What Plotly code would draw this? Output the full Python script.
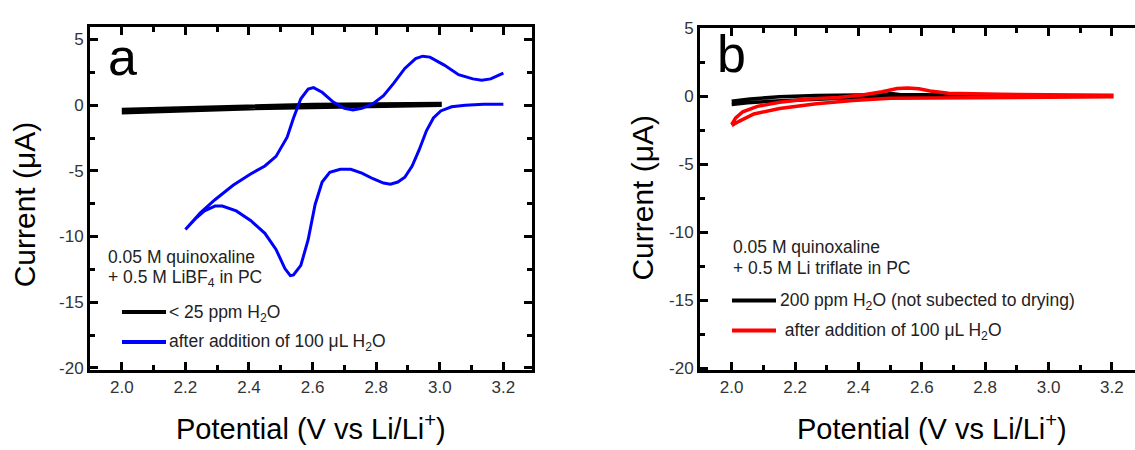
import plotly.graph_objects as go

W, H = 1135, 450

# ---------------- data ----------------
# Panel a: blue CV (after addition of 100 uL H2O): cathodic branch 3.2 -> 2.2, then anodic 2.2 -> 3.2
a_blue_v = [3.200, 3.138, 3.080, 3.037, 3.003, 2.980, 2.958, 2.935, 2.913, 2.890, 2.868, 2.845,
            2.823, 2.790, 2.755, 2.720, 2.687, 2.654, 2.630, 2.608, 2.586, 2.563, 2.540, 2.530,
            2.513, 2.485, 2.450, 2.405, 2.360, 2.316, 2.293, 2.260, 2.231, 2.200,
            2.247, 2.293, 2.350, 2.405, 2.450, 2.485, 2.520, 2.540, 2.563, 2.586, 2.603, 2.630,
            2.665, 2.700, 2.727, 2.755, 2.790, 2.823, 2.856, 2.890, 2.924, 2.946, 2.969, 3.014,
            3.059, 3.104, 3.132, 3.160, 3.200]
a_blue_i = [0.07, 0.07, 0.00, -0.12, -0.44, -0.98, -1.95, -3.41, -4.63, -5.49, -5.85, -6.02,
            -5.93, -5.60, -5.17, -4.88, -4.88, -5.12, -5.85, -7.56, -10.24, -12.20, -12.93, -12.98,
            -12.44, -10.98, -9.76, -8.78, -8.05, -7.68, -7.68, -8.05, -8.66, -9.46,
            -8.20, -7.20, -6.10, -5.24, -4.63, -3.90, -2.44, -0.98, 0.49, 1.22, 1.34, 0.98,
            0.24, -0.24, -0.37, -0.24, 0.12, 0.73, 1.70, 2.80, 3.54, 3.73, 3.66, 3.05,
            2.32, 2.00, 1.90, 2.00, 2.44]

# Panel a: black CV (< 25 ppm H2O)
a_black_v = [2.0, 2.1, 2.2, 2.3, 2.4, 2.5, 2.6, 2.7, 2.8, 2.9, 3.0,
             3.0, 2.9, 2.8, 2.7, 2.6, 2.5, 2.4, 2.3, 2.2, 2.1, 2.0]
a_black_i = [-0.35, -0.28, -0.20, -0.12, -0.05, 0.00, 0.03, 0.05, 0.07, 0.08, 0.10,
             0.02, -0.02, -0.05, -0.08, -0.12, -0.18, -0.25, -0.33, -0.40, -0.47, -0.55]

# Panel b: black CV (200 ppm H2O)
b_black_v = [2.0, 2.058, 2.151, 2.267, 2.4, 2.475, 2.504, 2.533, 2.6, 2.7, 2.852,
             2.852, 2.7, 2.5, 2.4, 2.267, 2.2, 2.104, 2.05, 2.0]
b_black_i = [-0.35, -0.19, -0.02, 0.07, 0.10, 0.12, 0.21, 0.12, 0.12, 0.12, 0.12,
             0.05, 0.03, -0.02, -0.08, -0.19, -0.26, -0.38, -0.47, -0.59]

# Panel b: red CV (after addition of 100 uL H2O)
b_red_v = [2.0, 2.012, 2.035, 2.081, 2.151, 2.243, 2.336, 2.417, 2.475, 2.522, 2.556, 2.591,
           2.626, 2.684, 2.846, 3.078, 3.2,
           3.2, 2.962, 2.73, 2.5, 2.383, 2.267, 2.151, 2.07, 2.023, 2.0]
b_red_i = [-2.07, -1.60, -1.13, -0.73, -0.42, -0.19, -0.07, 0.12, 0.35, 0.59, 0.63, 0.56,
           0.40, 0.23, 0.16, 0.12, 0.09,
           -0.02, -0.07, -0.07, -0.14, -0.30, -0.54, -0.89, -1.29, -1.83, -2.14]

# ticks
x_tickvals = [2.0, 2.2, 2.4, 2.6, 2.8, 3.0, 3.2]
x_ticktext = ["2.0", "2.2", "2.4", "2.6", "2.8", "3.0", "3.2"]
x_minorvals = [2.1, 2.3, 2.5, 2.7, 2.9, 3.1]
y_tickvals = [-20, -15, -10, -5, 0, 5]
y_ticktext = ["-20", "-15", "-10", "-5", "0", "5"]
y_minorvals = [-17.5, -12.5, -7.5, -2.5, 2.5]

# texts
x_title = "Potential (V vs Li/Li<sup>+</sup>)"
y_title = "Current (\u03bcA)"
a_note = ["0.05 M quinoxaline", "+ 0.5 M LiBF<sub>4</sub> in PC"]
a_labels = ["&lt; 25 ppm H<sub>2</sub>O", "after addition of 100 \u03bcL H<sub>2</sub>O"]
b_note = ["0.05 M quinoxaline", "+ 0.5 M Li triflate in PC"]
b_labels = ["200 ppm H<sub>2</sub>O (not subected to drying)", " after addition of 100 \u03bcL H<sub>2</sub>O"]

FONT = "Arial, Liberation Sans, sans-serif"

fig = go.Figure()
fig.add_trace(go.Scatter(x=a_black_v, y=a_black_i, mode="lines", xaxis="x", yaxis="y",
                         line=dict(color="black", width=4)))
fig.add_trace(go.Scatter(x=a_blue_v, y=a_blue_i, mode="lines", xaxis="x", yaxis="y",
                         line=dict(color="#0000ff", width=3)))
fig.add_trace(go.Scatter(x=b_black_v, y=b_black_i, mode="lines", xaxis="x2", yaxis="y2",
                         line=dict(color="black", width=3.5)))
fig.add_trace(go.Scatter(x=b_red_v, y=b_red_i, mode="lines", xaxis="x2", yaxis="y2",
                         line=dict(color="#ff0000", width=3.5)))


def px(x):
    return x / W


def py(y):
    return 1 - y / H


common_x = dict(tickmode="array", tickvals=x_tickvals, ticktext=x_ticktext,
                ticks="inside", ticklen=8, tickwidth=3, tickcolor="black",
                showline=True, linewidth=3, linecolor="black", mirror="allticks",
                minor=dict(tickmode="array", tickvals=x_minorvals, ticks="inside",
                           ticklen=5, tickwidth=3, tickcolor="black", showgrid=False),
                showgrid=False, zeroline=False,
                tickfont=dict(family=FONT, size=17, color="#333333"))
common_y = dict(tickmode="array", tickvals=y_tickvals, ticktext=y_ticktext,
                ticks="inside", ticklen=8, tickwidth=3, tickcolor="black",
                showline=True, linewidth=3, linecolor="black",
                minor=dict(tickmode="array", tickvals=y_minorvals, ticks="inside",
                           ticklen=5, tickwidth=3, tickcolor="black", showgrid=False),
                showgrid=False, zeroline=False,
                tickfont=dict(family=FONT, size=17, color="#333333"))

fig.update_layout(
    width=W, height=H, margin=dict(l=0, r=0, t=0, b=0),
    paper_bgcolor="white", plot_bgcolor="white", showlegend=False,
    xaxis=dict(common_x, domain=[px(90), px(532)], range=[1.9, 3.29], anchor="y"),
    yaxis=dict(common_y, domain=[py(375), py(19)], range=[-20.15, 5.93], anchor="x",
               mirror="allticks"),
    xaxis2=dict(common_x, domain=[px(700), 1.0], range=[1.9, 3.273], anchor="y2"),
    yaxis2=dict(common_y, domain=[py(375), py(20)], range=[-20.12, 5.02], anchor="x2",
                mirror=False),
)

ann = []
# axis titles
for cx in (311, 932):
    ann.append(dict(text=x_title, x=px(cx), y=py(434), xref="paper", yref="paper",
                    xanchor="center", yanchor="middle", showarrow=False,
                    font=dict(family=FONT, size=29, color="black")))
for cx, cy in ((24, 203), (643, 196)):
    ann.append(dict(text=y_title, x=px(cx), y=py(cy), xref="paper", yref="paper",
                    xanchor="center", yanchor="middle", showarrow=False, textangle=-90,
                    font=dict(family=FONT, size=30, color="black")))
# panel letters
ann.append(dict(text="a", x=px(106), y=py(50), xref="paper", yref="paper", xanchor="left",
                yanchor="middle", showarrow=False, font=dict(family=FONT, size=52, color="black")))
ann.append(dict(text="b", x=px(715), y=py(47), xref="paper", yref="paper", xanchor="left",
                yanchor="middle", showarrow=False, font=dict(family=FONT, size=52, color="black")))
# notes
for i, t in enumerate(a_note):
    ann.append(dict(text=t, x=px(106), y=py(258 + 22 * i), xref="paper", yref="paper",
                    xanchor="left", yanchor="middle", showarrow=False,
                    font=dict(family=FONT, size=17.5, color="#222222")))
for i, t in enumerate(b_note):
    ann.append(dict(text=t, x=px(731), y=py(247 + 22 * i), xref="paper", yref="paper",
                    xanchor="left", yanchor="middle", showarrow=False,
                    font=dict(family=FONT, size=17.5, color="#222222")))
# legend entries
a_leg_y = [315, 346]
b_leg_y = [303, 334]
a_colors = ["black", "#0000ff"]
b_colors = ["black", "#ff0000"]
shapes = []
for i in range(2):
    shapes.append(dict(type="line", xref="paper", yref="paper", x0=px(122), x1=px(166),
                       y0=py(a_leg_y[i]), y1=py(a_leg_y[i]),
                       line=dict(color=a_colors[i], width=4)))
    ann.append(dict(text=a_labels[i], x=px(167), y=py(a_leg_y[i] + 1), xref="paper", yref="paper",
                    xanchor="left", yanchor="middle", showarrow=False,
                    font=dict(family=FONT, size=17.5, color="#222222")))
    shapes.append(dict(type="line", xref="paper", yref="paper", x0=px(732), x1=px(776),
                       y0=py(b_leg_y[i]), y1=py(b_leg_y[i]),
                       line=dict(color=b_colors[i], width=4)))
    ann.append(dict(text=b_labels[i], x=px(778), y=py(b_leg_y[i] + 1), xref="paper", yref="paper",
                    xanchor="left", yanchor="middle", showarrow=False,
                    font=dict(family=FONT, size=17.5, color="#222222")))

fig.update_layout(annotations=ann, shapes=shapes)
fig.write_html("out.html")
